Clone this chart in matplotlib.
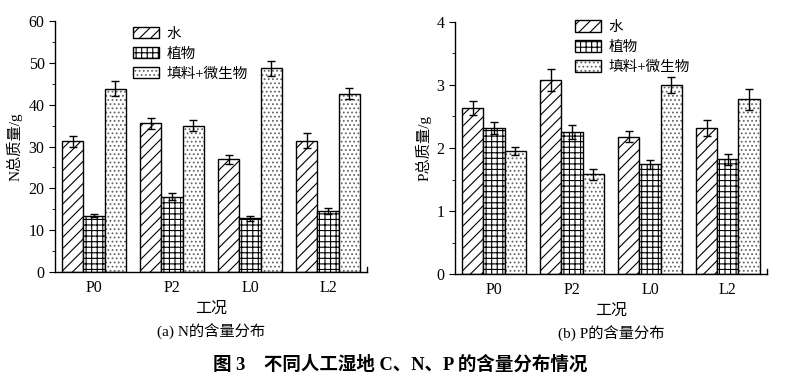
import matplotlib
matplotlib.use("Agg")
import matplotlib.pyplot as plt
import numpy as np
from matplotlib.ticker import MultipleLocator
from matplotlib.patches import Patch

plt.rcParams['font.family'] = ['Liberation Serif', 'Noto Sans CJK SC']
plt.rcParams['hatch.linewidth'] = 0.8

categories = ["P0", "P2", "L0", "L2"]
series = ["水", "植物", "填料+微生物"]

n_water = [31.2, 35.5, 26.9, 31.4]
n_water_err = [1.2, 1.4, 1.1, 1.8]
n_plant = [13.5, 18.0, 12.8, 14.6]
n_plant_err = [0.3, 0.8, 0.6, 0.8]
n_fill = [43.8, 35.0, 48.7, 42.6]
n_fill_err = [1.8, 1.3, 1.8, 1.3]

p_water = [2.64, 3.08, 2.18, 2.32]
p_water_err = [0.11, 0.18, 0.09, 0.13]
p_plant = [2.32, 2.25, 1.74, 1.82]
p_plant_err = [0.10, 0.11, 0.07, 0.09]
p_fill = [1.95, 1.58, 3.00, 2.77]
p_fill_err = [0.06, 0.08, 0.13, 0.16]

hatches = ['///', '+++', '....']
hatch_colors = ['black', 'black', '#666666']

fig = plt.figure(figsize=(7.97, 3.79), dpi=100)
ax1 = fig.add_axes([0.069, 0.2823, 0.3915, 0.6623])
ax2 = fig.add_axes([0.5709, 0.277, 0.3914, 0.665])

def draw(ax, vals, errs, ylim, major, minor, ylabel, title, legend_anchor):
    x = np.arange(1, len(categories) + 1)
    w = 0.27
    handles = []
    for i, (v, e) in enumerate(zip(vals, errs)):
        xs = x + (i - 1) * w
        ax.bar(xs, v, w, color='white', edgecolor=hatch_colors[i], hatch=hatches[i], linewidth=0)
        ax.bar(xs, v, w, yerr=e, fill=False, edgecolor='black', linewidth=1.0,
               error_kw=dict(ecolor='black', elinewidth=1.0, capsize=3, capthick=1.0))
        h = Patch(facecolor='white', edgecolor=hatch_colors[i], hatch=hatches[i], linewidth=0)
        h2 = Patch(fill=False, edgecolor='black', linewidth=1.0)
        handles.append((h, h2))
    ax.set_xlim(0.5, 4.5)
    ax.set_ylim(*ylim)
    ax.set_xticks(x)
    ax.set_xticklabels(categories, fontsize=11.5)
    ax.tick_params(axis='x', length=0, pad=6)
    ax.yaxis.set_major_locator(MultipleLocator(major))
    ax.yaxis.set_minor_locator(MultipleLocator(minor))
    ax.tick_params(axis='y', which='major', length=4, labelsize=11.5, direction='out')
    ax.tick_params(axis='y', which='minor', length=2, direction='out')
    for s in ['top', 'right']:
        ax.spines[s].set_visible(False)
    for s in ['left', 'bottom']:
        ax.spines[s].set_linewidth(1.0)
    ax.set_ylabel(ylabel, fontsize=11, labelpad=4)
    ax.set_xlabel("工况", fontsize=11.5, labelpad=3)
    ax.text(0.5, -0.205, title, transform=ax.transAxes, ha='center', va='top', fontsize=11)
    ax.legend(handles, series, loc='upper left', bbox_to_anchor=legend_anchor, frameon=False,
              fontsize=10.5, handlelength=1.75, handleheight=0.85, labelspacing=0.42,
              borderaxespad=0, handletextpad=0.55)
    ax.plot([1, 1], [0, 0.018], transform=ax.transAxes, color='black', lw=1.0, clip_on=False)

draw(ax1, [n_water, n_plant, n_fill], [n_water_err, n_plant_err, n_fill_err],
     (0, 60), 10, 5, "N总质量/g", "(a) N的含量分布", (0.232, 1.0))
draw(ax2, [p_water, p_plant, p_fill], [p_water_err, p_plant_err, p_fill_err],
     (0, 4), 1, 0.5, "P总质量/g", "(b) P的含量分布", (0.367, 1.03))

fig.text(0.502, 0.037, "图 3    不同人工湿地 C、N、P 的含量分布情况", ha='center', va='center',
         fontsize=13.3, fontweight='bold')

fig.savefig("out.png", dpi=100)
